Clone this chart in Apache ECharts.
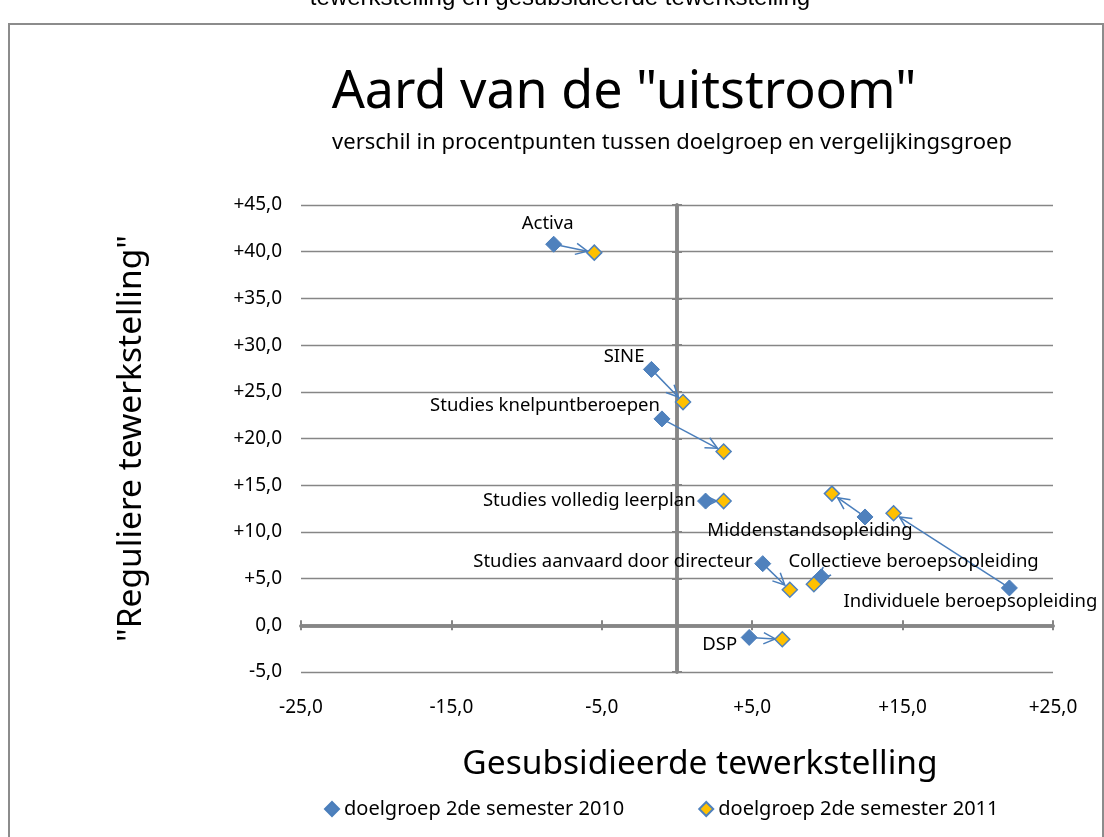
<!DOCTYPE html>
<html>
<head>
<meta charset="utf-8">
<script src="https://cdn.jsdelivr.net/npm/echarts@6/dist/echarts.min.js"></script>
<style>
  html, body { margin: 0; padding: 0; background: #fff; }
  #chart { width: 1104px; height: 837px; }
</style>
</head>
<body>
<div id="chart"></div>
<script>
// categories en waarden (procentpunten)
const categories = [
  "Activa", "SINE", "Studies knelpuntberoepen", "Studies volledig leerplan",
  "Studies aanvaard door directeur", "Middenstandsopleiding",
  "Collectieve beroepsopleiding", "Individuele beroepsopleiding", "DSP"
];
// doelgroep 2de semester 2010
const x2010 = [-8.2, -1.7, -1.0, 1.9, 5.7, 12.5, 9.6, 22.1, 4.8];
const y2010 = [40.8, 27.4, 22.1, 13.3, 6.6, 11.6, 5.2, 4.0, -1.3];
// doelgroep 2de semester 2011
const x2011 = [-5.5, 0.4, 3.1, 3.1, 7.5, 10.3, 9.1, 14.4, 7.0];
const y2011 = [39.9, 23.9, 18.6, 13.3, 3.8, 14.1, 4.4, 12.0, -1.5];

const seriesNames = ["doelgroep 2de semester 2010", "doelgroep 2de semester 2011"];

// plaats van de labels t.o.v. het punt: [align, dx, dy]
const labelPlace = [
  ["center", -6, -20],
  ["right", -7, -13],
  ["right", -2, -13],
  ["right", -10, 0],
  ["right", -10, -2],
  ["center", -55, 14],
  ["left", -33, -15],
  ["center", -39, 14],
  ["right", -12, 7]
];

const FONT = "Noto Sans";
const GRID = "#868686";

function fmt(v) {
  const s = Math.abs(v).toFixed(1).replace(".", ",");
  if (v > 0) return "+" + s;
  if (v < 0) return "-" + s;
  return s;
}

const blueData = x2010.map((x, i) => ({
  name: categories[i],
  value: [x, y2010[i]],
  label: {
    show: true,
    position: "inside",
    align: labelPlace[i][0],
    offset: [labelPlace[i][1], labelPlace[i][2]],
    formatter: categories[i],
    color: "#000",
    fontFamily: FONT,
    fontSize: 18.5
  }
}));
const yellowData = x2011.map((x, i) => [x, y2011[i]]);
const arrowData = x2010.map((x, i) => [x, y2010[i], x2011[i], y2011[i]]);

function zeroAxis(dim, inside) {
  return {
    type: "value",
    min: dim === "x" ? -25 : -5,
    max: dim === "x" ? 25 : 45,
    interval: dim === "x" ? 10 : 5,
    axisLine: { show: true, onZero: true, onZeroAxisIndex: 0, lineStyle: { color: GRID, width: 3.5 } },
    axisTick: { show: true, inside: inside, length: 5, lineStyle: { color: GRID, width: 2 } },
    axisLabel: { show: false },
    splitLine: { show: false }
  };
}

const myChart = echarts.init(document.getElementById("chart"));
const option = {
  backgroundColor: "#fff",
  animation: false,
  title: [
    {
      text: 'Aard van de "uitstroom"',
      left: 619, top: 62, textAlign: "center",
      textStyle: { fontFamily: FONT, fontSize: 52, fontWeight: "normal", color: "#000" }
    },
    {
      text: "verschil in procentpunten tussen doelgroep en vergelijkingsgroep",
      left: 667, top: 127, textAlign: "center",
      textStyle: { fontFamily: FONT, fontSize: 22, fontWeight: "normal", color: "#000" }
    },
    {
      text: "tewerkstelling en gesubsidieerde tewerkstelling",
      left: 555, top: -19, textAlign: "center",
      textStyle: { fontFamily: "Liberation Sans", fontSize: 24, fontWeight: "normal", color: "#000" }
    }
  ],
  graphic: [
    {
      type: "rect", left: 8, top: 23, z: -10,
      shape: { width: 1094, height: 840 },
      style: { fill: "#fff", stroke: "#8c8c8c", lineWidth: 2 }
    }
  ],
  legend: {
    data: seriesNames,
    left: 319, top: 794,
    icon: "diamond",
    itemWidth: 14, itemHeight: 14,
    itemGap: 74,
    textStyle: { fontFamily: FONT, fontSize: 20, color: "#000" }
  },
  grid: { left: 301, right: 51, top: 205, bottom: 165 },
  xAxis: [
    {
      type: "value", min: -25, max: 25, interval: 10,
      name: "Gesubsidieerde tewerkstelling",
      nameLocation: "middle", nameGap: 75,
      nameTextStyle: { fontFamily: FONT, fontSize: 33.5, color: "#000", padding: [0, 0, 0, 46] },
      axisLine: { show: false, onZero: false },
      axisTick: { show: false },
      axisLabel: { formatter: fmt, margin: 26, fontFamily: FONT, fontSize: 19, color: "#000" },
      splitLine: { show: false }
    },
    zeroAxis("x", false),
    zeroAxis("x", true)
  ],
  yAxis: [
    {
      type: "value", min: -5, max: 45, interval: 5,
      name: '"Reguliere tewerkstelling"',
      nameLocation: "middle", nameGap: 153, nameRotate: 90,
      nameTextStyle: { fontFamily: FONT, fontSize: 33.5, color: "#000" },
      axisLine: { show: false, onZero: false },
      axisTick: { show: false },
      axisLabel: { formatter: fmt, margin: 19, fontFamily: FONT, fontSize: 19, color: "#000" },
      splitLine: { show: true, lineStyle: { color: GRID, width: 1.3 } }
    },
    zeroAxis("y", false),
    zeroAxis("y", true)
  ],
  series: [
    {
      type: "custom",
      name: "pijlen",
      xAxisIndex: 0, yAxisIndex: 0,
      z: 3,
      encode: { x: [0, 2], y: [1, 3] },
      data: arrowData,
      renderItem: function (params, api) {
        const a = api.coord([api.value(0), api.value(1)]);
        const b = api.coord([api.value(2), api.value(3)]);
        const dx = b[0] - a[0], dy = b[1] - a[1];
        const len = Math.sqrt(dx * dx + dy * dy);
        const ux = dx / len, uy = dy / len;
        const tip = [b[0] - ux * 7, b[1] - uy * 7];
        const head = 13, c = Math.cos(0.45), s = Math.sin(0.45);
        const left = [tip[0] + head * (-ux * c + uy * s), tip[1] + head * (-uy * c - ux * s)];
        const right = [tip[0] + head * (-ux * c - uy * s), tip[1] + head * (-uy * c + ux * s)];
        const st = { stroke: "#4a7ebb", lineWidth: 1.5, fill: null };
        return {
          type: "group",
          children: [
            { type: "line", shape: { x1: a[0], y1: a[1], x2: tip[0], y2: tip[1] }, style: st },
            { type: "polyline", shape: { points: [left, tip, right] }, style: st }
          ]
        };
      }
    },
    {
      type: "scatter",
      name: seriesNames[0],
      xAxisIndex: 0, yAxisIndex: 0,
      z: 4,
      symbol: "diamond",
      symbolSize: 16,
      itemStyle: { color: "#4f81bd", borderColor: "#4a7ebb", borderWidth: 1, opacity: 1 },
      data: blueData
    },
    {
      type: "scatter",
      name: seriesNames[1],
      xAxisIndex: 0, yAxisIndex: 0,
      z: 5,
      symbol: "diamond",
      symbolSize: 15,
      itemStyle: { color: "#ffc000", borderColor: "#4f81bd", borderWidth: 1.5, opacity: 1 },
      data: yellowData
    }
  ]
};
myChart.setOption(option);
</script>
</body>
</html>
